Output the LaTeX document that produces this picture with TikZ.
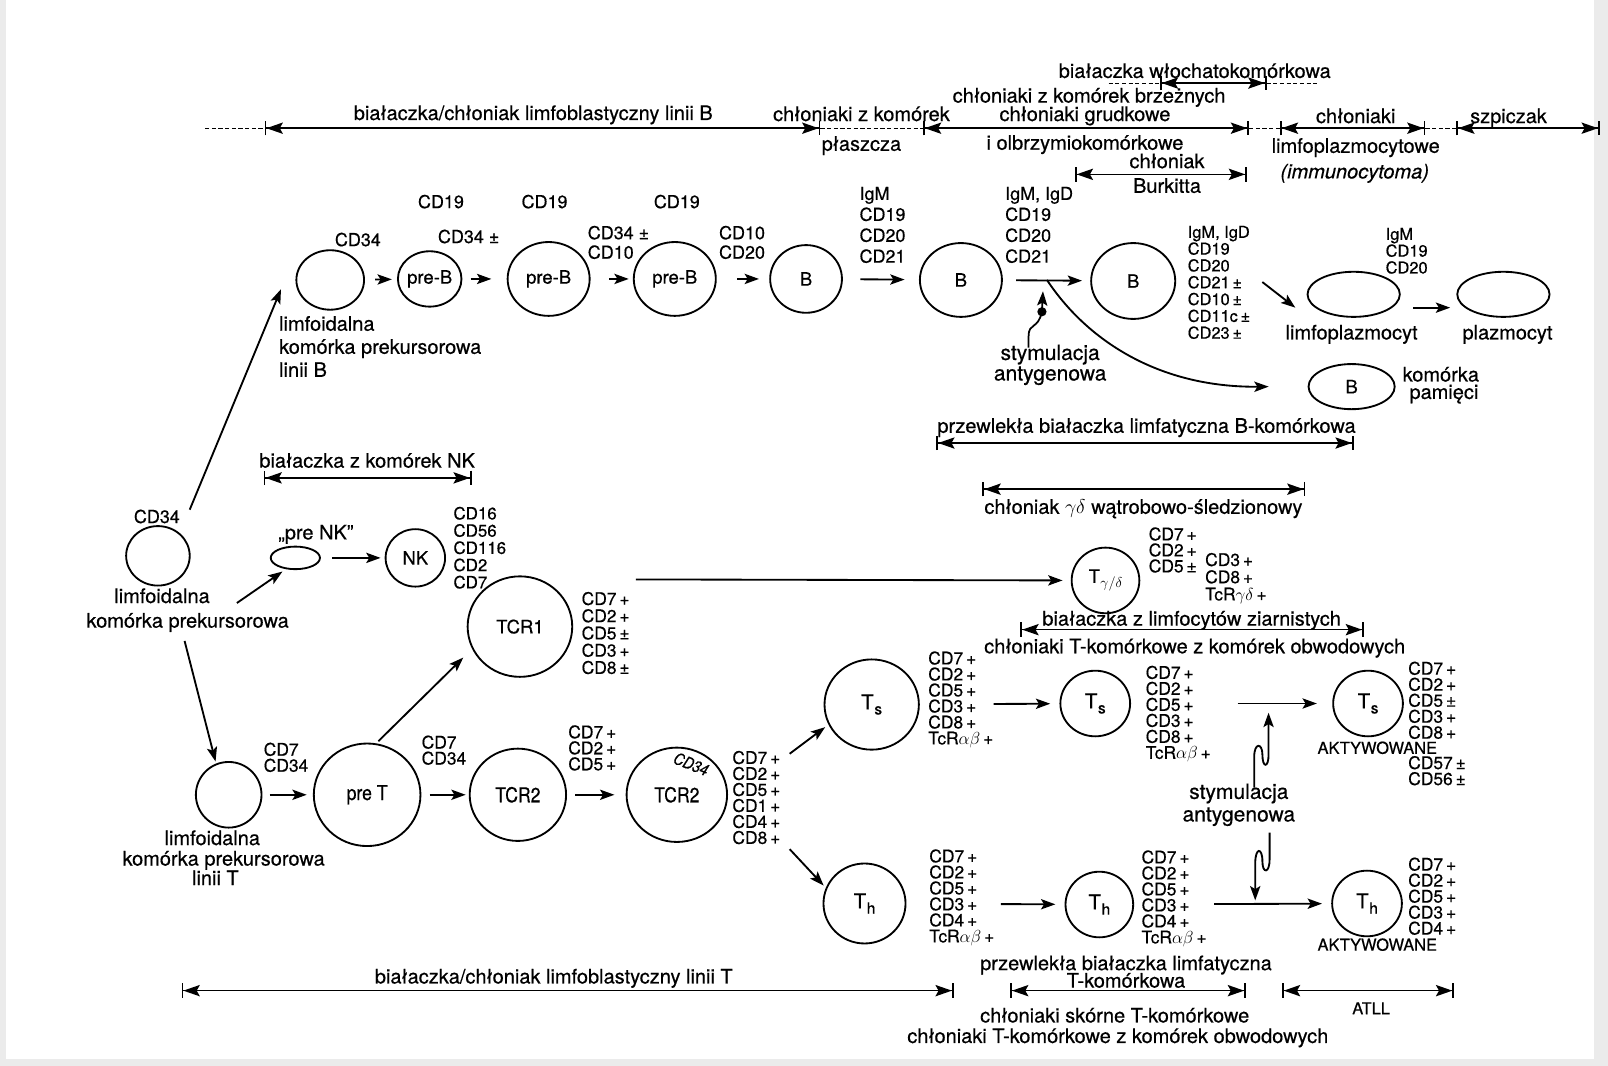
\documentclass[tikz,border=0pt]{standalone}
\usepackage{fix-cm}
\usepackage{fontspec}
\setmainfont{TeX Gyre Heros}[FakeBold=0.5]
\newfontfamily\cnd[FakeStretch=0.86,FakeBold=0.5]{TeX Gyre Heros}
\usetikzlibrary{arrows.meta,shapes.geometric,calc}
\newcommand\fA{\fontsize{19.5}{21}\selectfont}
\newcommand\fStim{\fontsize{20.5}{21}\selectfont}
\newcommand\fCell{\fontsize{18}{20}\selectfont}
\newcommand\fCD{\fontsize{17.5}{20.4}\selectfont\lineskiplimit=-50pt}
\newcommand\fCDb{\fontsize{17.5}{19}\selectfont\lineskiplimit=-50pt}
\newcommand\fCDc{\fontsize{16.5}{16.8}\selectfont\lineskiplimit=-50pt}
\newcommand\fLim{\fontsize{19.5}{22.5}\selectfont\lineskiplimit=-50pt}
\newcommand\fCn{\fontsize{17}{15.6}\selectfont\lineskiplimit=-50pt}
\newcommand\fCnB{\fontsize{16}{16.4}\selectfont\lineskiplimit=-50pt}
\newcommand\fCnC{\fontsize{17}{16.8}\selectfont\lineskiplimit=-50pt}
\newcommand\fAkt{\fontsize{16}{16}\selectfont}
\newcommand\fCnL{\cnd\fontsize{20}{20}\selectfont}
\newcommand\Tsub[1]{\fontsize{20}{20}\selectfont T\kern0.6pt\raisebox{-5pt}{\fontsize{15}{15}\selectfont #1}}
\tikzset{
 cell/.style={draw, ellipse, line width=1.8pt, inner sep=0pt, font=\fCell},
 tcell/.style={draw, ellipse, line width=1.8pt, inner sep=0pt, font=\fCnL},
 txt/.style={inner sep=0pt, anchor=base, font=\fA},
 blk/.style={inner sep=0pt, anchor=north west, align=left},
 band/.style={line width=1.6pt, {Bar[width=14pt,line width=1.8pt]Stealth[length=16pt,width=11pt,inset=3pt]}-{Stealth[length=16pt,width=11pt,inset=3pt]Bar[width=14pt,line width=1.8pt]}},
 ext/.style={line width=1.1pt, dash pattern=on 4pt off 2.5pt},
 flow/.style={line width=1.8pt, -{Stealth[length=14pt,width=10pt,inset=3pt]}},
 wav/.style={line width=1.7pt}
}
\begin{document}
\begin{tikzpicture}[x=1pt,y=-1pt]
\useasboundingbox (0,0) rectangle (1568,1039);
\fill[white] (0,0) rectangle (1568,1039);
\fill[gray!16] (0,0) rectangle (6,1039);
\fill[gray!16] (1554,0) rectangle (1568,1039);
\fill[gray!16] (0,1033) rectangle (1568,1039);

% ---------------- top bands ----------------
\coordinate (t0) at (200,125); \coordinate (t1) at (258,125);
\coordinate (t2) at (800,125); \coordinate (t3) at (900,125);
\coordinate (t4) at (1218,125); \coordinate (t5) at (1248,125);
\coordinate (t6) at (1390,125); \coordinate (t7) at (1420,125);
\coordinate (t8) at (1560,125);
\draw[ext] (t0) -- (t1); \draw[band] (t1) -- (t2);
\draw[ext] (t2) -- (t3); \draw[band] (t3) -- (t4);
\draw[ext] (t4) -- (t5); \draw[band] (t5) -- (t6);
\draw[ext] (t6) -- (t7); \draw[band] (t7) -- (t8);
\coordinate (h0) at (1081,81); \coordinate (h1) at (1131,81);
\coordinate (h2) at (1235,81); \coordinate (h3) at (1285,81);
\draw[ext] (h0) -- (h1); \draw[band] (h1) -- (h2); \draw[ext] (h2) -- (h3);
\coordinate (bk0) at (1048,170); \coordinate (bk1) at (1216,170);
\draw[band] (bk0) -- (bk1);

\node[txt] (l1) at (1165,76) {białaczka włochatokomórkowa};
\node[txt] (l2) at (1062,100) {chłoniaki z komórek brzeżnych};
\node[txt] (l3) at (520,117) {białaczka/chłoniak limfoblastyczny linii B};
\node[txt] (l4) at (840,118) {chłoniaki z komórek};
\node[txt] (l5) at (840,147) {płaszcza};
\node[txt] (l6) at (1058,118) {chłoniaki grudkowe};
\node[txt] (l7) at (1058,146) {i olbrzymiokomórkowe};
\node[txt] (l8) at (1138,164) {chłoniak};
\node[txt] (l9) at (1138,188) {Burkitta};
\node[txt] (l10) at (1322,120) {chłoniaki};
\node[txt] (l11) at (1322,149) {limfoplazmocytowe};
\node[txt,font=\fA\itshape] (l12) at (1321,174) {(immunocytoma)};
\node[txt] (l13) at (1471,120) {szpiczak};

% ---------------- B lineage ----------------
\node[cell,minimum width=66,minimum height=58] (c1) at (322,273) {};
\node[cell,minimum width=58,minimum height=54] (pb1) at (419,272) {pre-B};
\node[cell,minimum width=80,minimum height=72] (pb2) at (535,272) {pre-B};
\node[cell,minimum width=80,minimum height=72] (pb3) at (658,272) {pre-B};
\node[cell,minimum width=70,minimum height=66] (b1) at (786,272) {B};
\node[cell,minimum width=80,minimum height=72] (b2) at (937,273) {B};
\node[cell,minimum width=82,minimum height=74] (b3) at (1105,274) {B};
\node[cell,minimum width=90,minimum height=44] (lpc) at (1320,287) {};
\node[cell,minimum width=90,minimum height=44] (plc) at (1466,287) {};
\node[cell,minimum width=84,minimum height=44] (mb) at (1318,377) {B};

\draw[flow,shorten <=10pt,shorten >=5pt] (c1) -- (pb1);
\draw[flow,shorten <=8pt,shorten >=15pt] (pb1) -- (pb2);
\draw[flow,shorten <=18pt,shorten >=4pt] (pb2) -- (pb3);
\draw[flow,shorten <=20pt,shorten >=10pt] (pb3) -- (b1);
\draw[flow,shorten <=17pt,shorten >=14pt] (b1) -- (b2);
\draw[flow,shorten <=13pt,shorten >=8pt] (b2) -- (b3);
\draw[flow] ([xshift=84pt,yshift=-1pt]b3.east) -- ([xshift=-11pt,yshift=-13pt]lpc.west);
\draw[flow] ([xshift=12pt,yshift=-13pt]lpc.east) -- ([xshift=-6pt,yshift=-13pt]plc.west);
\draw[flow] ([xshift=43pt]b2.east) .. controls (1060,332) and (1130,378) .. ([xshift=-38pt]mb.west);

\node[txt,font=\fCD] (m1) at (349,240) {CD34};
\node[txt,font=\fCD] (m2) at (430,203) {CD19};
\node[txt,font=\fCD] (m3) at (457,237) {CD34 ±};
\node[txt,font=\fCD] (m4) at (531,203) {CD19};
\node[txt,font=\fCD] (m5) at (660,203) {CD19};
\node[blk,font=\fCDb] (m6) at (573,220) {CD34 ±\\CD10};
\node[blk,font=\fCDb] (m7) at (701,220) {CD10\\CD20};
\node[blk,font=\fCD] (m8) at (838,182) {IgM\\CD19\\CD20\\CD21};
\node[blk,font=\fCD] (m9) at (980,182) {IgM, IgD\\CD19\\CD20\\CD21};
\node[blk,font=\fCnB] (m10) at (1158,220) {IgM, IgD\\CD19\\CD20\\CD21\,±\\CD10\,±\\CD11c\,±\\CD23\,±};
\node[blk,font=\fCnB] (m11) at (1351,222) {IgM\\CD19\\CD20};
\node[txt] (m12) at (1318,331) {limfoplazmocyt};
\node[txt] (m13) at (1470,331) {plazmocyt};
\node[txt] (m14) at (1405,372) {komórka};
\node[txt] (m15) at (1408,389) {pamięci};
\node[txt,font=\fStim] (m16) at (1024,351) {stymulacja};
\node[txt,font=\fStim] (m17) at (1024,371) {antygenowa};
\node[blk,font=\fLim] (m18) at (272,308) {limfoidalna\\komórka prekursorowa\\linii B};

% antigen stimulation (B)
\coordinate (sb0) at (1003,339);
\coordinate (sb1) at (1016,304);
\coordinate (sb2) at (1017,284);
\draw[wav] (sb0) -- (1003,328) .. controls (1003,314) and (1012,322) .. (sb1);
\fill (sb1) circle (4.5pt);
\draw[flow] (sb1) -- (sb2);

% CLL-B, hepatosplenic bands
\coordinate (cb0) at (913,432); \coordinate (cb1) at (1320,432);
\draw[band] (cb0) -- (cb1);
\node[txt] (n1) at (1118,422) {przewlekła białaczka limfatyczna B-komórkowa};
\coordinate (hs0) at (958,477); \coordinate (hs1) at (1273,477);
\draw[band] (hs0) -- (hs1);
\node[txt] (n2) at (1115,501) {chłoniak $\gamma\delta$ wątrobowo-śledzionowy};

% ---------------- common precursor, NK ----------------
\node[cell,minimum width=62,minimum height=58] (lc) at (154,542) {};
\node[txt,font=\fCD] (k1) at (153,510) {CD34};
\node[txt] (k2) at (158,588) {limfoidalna};
\node[txt] (k3) at (183,612) {komórka prekursorowa};
\coordinate (nkb0) at (257,466); \coordinate (nkb1) at (460,466);
\draw[band] (nkb0) -- (nkb1);
\node[txt] (k4) at (358,456) {białaczka z komórek NK};
\node[cell,minimum width=48,minimum height=22] (prenk) at (288,544) {};
\node[txt] (k5) at (308,526) {„pre NK”};
\node[cell,minimum width=58,minimum height=56] (nk) at (405,544) {NK};
\node[blk,font=\fCDc] (k6) at (442,494) {CD16\\CD56\\CD116\\CD2\\CD7};
\draw[flow,shorten <=11pt,shorten >=4pt] (prenk) -- (nk);

\coordinate (fromB) at (185,497);
\coordinate (bIn) at (274,282);
\coordinate (fromNK) at (231,588);
\coordinate (fromT) at (180,625);
\draw[flow] (fromB) -- (bIn);
\draw[flow,shorten >=4pt] (fromNK) -- (prenk.230);

% ---------------- T lineage ----------------
\node[cell,minimum width=102,minimum height=98] (tcr1) at (507,611) {TCR1};
\node[blk,font=\fCnC] (q1) at (567,577) {CD7\,+\\CD2\,+\\CD5\,±\\CD3\,+\\CD8\,±};
\node[cell,minimum width=66,minimum height=64] (tgd) at (1078,566) {T\kern0.5pt\raisebox{-5pt}{\fontsize{14}{14}\selectfont$\gamma/\delta$}};
\coordinate (gd0) at (620,565);
\draw[flow,shorten >=8pt] (gd0) -- (tgd.west);
\node[blk,font=\fCn] (q2) at (1120,514) {CD7\,+\\CD2\,+\\CD5\,±};
\node[blk,font=\fCnC] (q3) at (1175,539) {CD3\,+\\CD8\,+\\TcR$\gamma\delta$\,+};
\coordinate (lg0) at (995,614); \coordinate (lg1) at (1330,614);
\draw[band] (lg0) -- (lg1);
\node[txt] (q4) at (1162,610) {białaczka z limfocytów ziarnistych};
\node[txt] (q5) at (1165,637) {chłoniaki T-komórkowe z komórek obwodowych};

\node[cell,minimum width=64,minimum height=64] (tp) at (223,775) {};
\node[tcell,minimum width=104,minimum height=100] (pret) at (358,775) {pre T};
\node[tcell,minimum width=94,minimum height=90] (tcr2a) at (505,775) {TCR2};
\node[tcell,minimum width=98,minimum height=92] (tcr2b) at (660,775) {TCR2};
\node[font=\cnd\itshape\fontsize{16}{16}\selectfont, rotate=-22, inner sep=0pt] (c34) at (674,745) {CD34};
\draw[flow,shorten >=2pt] (fromT) -- (tp.112);
\draw[flow,shorten <=7pt,shorten >=6pt] (tp) -- (pret);
\draw[flow,shorten <=8pt,shorten >=3pt] (pret) -- (tcr2a);
\draw[flow,shorten <=8pt,shorten >=11pt] (tcr2a) -- (tcr2b);
\draw[flow,shorten <=3pt,shorten >=12pt] (pret.80) -- (tcr1.205);

\node[txt] (r1) at (207,824) {limfoidalna};
\node[txt] (r2) at (218,844) {komórka prekursorowa};
\node[txt] (r3) at (210,863) {linii T};
\node[blk,font=\fCn] (r4) at (257,724) {CD7\\CD34};
\node[blk,font=\fCn] (r5) at (411,717) {CD7\\CD34};
\node[blk,font=\fCn] (r6) at (554,707) {CD7\,+\\CD2\,+\\CD5\,+};
\node[blk,font=\fCn] (r7) at (714,732) {CD7\,+\\CD2\,+\\CD5\,+\\CD1\,+\\CD4\,+\\CD8\,+};

\node[cell,minimum width=92,minimum height=88] (ts1) at (850,687) {\Tsub{s}};
\node[cell,minimum width=68,minimum height=64] (ts2) at (1068,686) {\Tsub{s}};
\node[cell,minimum width=68,minimum height=64] (ts3) at (1334,686) {\Tsub{s}};
\node[cell,minimum width=80,minimum height=78] (th1) at (843,881) {\Tsub{h}};
\node[cell,minimum width=66,minimum height=64] (th2) at (1072,882) {\Tsub{h}};
\node[cell,minimum width=68,minimum height=64] (th3) at (1333,881) {\Tsub{h}};

\coordinate (tsfrom) at (770,735);
\coordinate (thfrom) at (770,828);
\draw[flow,shorten >=4pt] (tsfrom) -- (ts1.205);
\draw[flow,shorten >=3pt] (thfrom) -- (th1.158);
\draw[flow,shorten <=72pt,shorten >=9pt] (ts1) -- (ts2);
\draw[flow,shorten <=104pt,shorten >=15pt] (ts2) -- (ts3);
\draw[flow,shorten <=92pt,shorten >=9pt] (th1) -- (th2);
\draw[flow,shorten <=78pt,shorten >=9pt] (th2) -- (th3);

\node[blk,font=\fCn] (s1) at (905,635) {CD7\,+\\CD2\,+\\CD5\,+\\CD3\,+\\CD8\,+\\TcR$\alpha\beta$\,+};
\node[blk,font=\fCn] (s2) at (1117,649) {CD7\,+\\CD2\,+\\CD5\,+\\CD3\,+\\CD8\,+\\TcR$\alpha\beta$\,+};
\node[blk,font=\fCn] (s3) at (1373,645) {CD7\,+\\CD2\,+\\CD5\,±\\CD3\,+\\CD8\,+};
\node[txt,font=\fAkt] (s4) at (1343,735) {AKTYWOWANE};
\node[blk,font=\fCn] (s5) at (1373,737) {CD57\,±\\CD56\,±};
\node[blk,font=\fCn] (h1) at (906,828) {CD7\,+\\CD2\,+\\CD5\,+\\CD3\,+\\CD4\,+\\TcR$\alpha\beta$\,+};
\node[blk,font=\fCn] (h2) at (1113,829) {CD7\,+\\CD2\,+\\CD5\,+\\CD3\,+\\CD4\,+\\TcR$\alpha\beta$\,+};
\node[blk,font=\fCn] (h3) at (1373,836) {CD7\,+\\CD2\,+\\CD5\,+\\CD3\,+\\CD4\,+};
\node[txt,font=\fAkt] (h4) at (1343,927) {AKTYWOWANE};
\node[txt,font=\fStim] (s6) at (1208,779) {stymulacja};
\node[txt,font=\fStim] (s7) at (1208,801) {antygenowa};

% antigen stimulation (T)
\coordinate (st0) at (1223,768);
\coordinate (st1) at (1237,695);
\draw[flow] (st0) -- (1223,738) .. controls (1223,724) and (1231,724) .. (1231,736) .. controls (1231,749) and (1237,749) .. (1237,736) -- (st1);
\coordinate (sh0) at (1238,812);
\coordinate (sh1) at (1224,878);
\draw[flow] (sh0) -- (1238,838) .. controls (1238,852) and (1231,852) .. (1231,840) .. controls (1231,826) and (1224,826) .. (1224,842) -- (sh1);

% ---------------- bottom bands ----------------
\coordinate (bt0) at (177,966); \coordinate (bt1) at (930,966);
\draw[band] (bt0) -- (bt1);
\node[txt] (z1) at (540,959) {białaczka/chłoniak limfoblastyczny linii T};
\coordinate (ct0) at (985,966); \coordinate (ct1) at (1215,966);
\draw[band] (ct0) -- (ct1);
\node[txt] (z2) at (1098,946) {przewlekła białaczka limfatyczna};
\node[txt] (z3) at (1098,963) {T-komórkowa};
\coordinate (at0) at (1250,966); \coordinate (at1) at (1418,966);
\draw[band] (at0) -- (at1);
\node[txt,font=\fAkt] (z4) at (1337,989) {ATLL};
\node[txt] (z5) at (1087,997) {chłoniaki skórne T-komórkowe};
\node[txt] (z6) at (1090,1017) {chłoniaki T-komórkowe z komórek obwodowych};
\end{tikzpicture}
\end{document}
